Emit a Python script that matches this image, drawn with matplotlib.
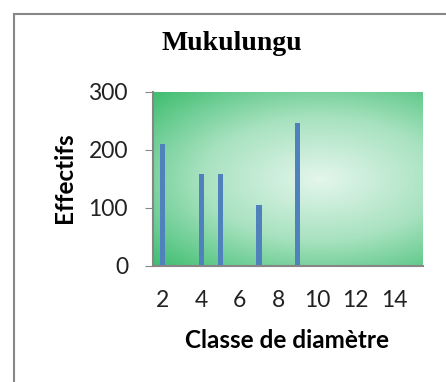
import numpy as np
import matplotlib.pyplot as plt
from matplotlib.colors import LinearSegmentedColormap
from matplotlib.patches import Rectangle

classes = [2, 4, 5, 7, 9]
effectifs = [211, 158, 158, 105, 247]
xticks = [2, 4, 6, 8, 10, 12, 14]
yticks = [0, 100, 200, 300]

fig = plt.figure(figsize=(4.46, 3.82), dpi=100)
fig.patches.append(Rectangle((14/446, -0.1), 1.2, 1 - 14/382 + 0.1,
                             transform=fig.transFigure, fill=False,
                             edgecolor='#868686', linewidth=1.5))

ax = fig.add_axes([153/446, 1 - 266/382, 270/446, 174/382])

# radial green gradient background
cmap = LinearSegmentedColormap.from_list('g', ['#e4f6ec', '#a8e2c0', '#3ebd70'])
gx, gy = np.meshgrid(np.linspace(0, 1, 300), np.linspace(0, 1, 200))
r = np.sqrt(((gx - 0.62) / 0.62) ** 2 + ((gy - 0.5) / 0.5) ** 2) / np.sqrt(2)
ax.imshow(r, cmap=cmap, vmin=0, vmax=1.0, extent=[1.5, 15.5, 0, 300],
          aspect='auto', origin='lower', zorder=0)

ax.bar(classes, effectifs, width=0.27, color='#4f81bd', zorder=2)

ax.set_xlim(1.5, 15.5)
ax.set_ylim(0, 300)
ax.set_xticks(xticks)
ax.set_yticks(yticks)
ax.tick_params(axis='x', length=0, pad=17, labelsize=16.5)
ax.tick_params(axis='y', length=6, color='#868686', pad=12, labelsize=16.5)
for lab in ax.get_xticklabels() + ax.get_yticklabels():
    lab.set_fontfamily('Lato')
    lab.set_color('#222222')

for s in ['top', 'right']:
    ax.spines[s].set_visible(False)
for s in ['left', 'bottom']:
    ax.spines[s].set_color('#868686')
    ax.spines[s].set_linewidth(1.5)

fig.text(287/446, 1 - 340/382, 'Classe de diamètre', fontfamily='Lato',
         fontweight='bold', fontsize=17.5, ha='center', va='center')
fig.text(65/446, 1 - 178/382, 'Effectifs', fontfamily='Lato',
         fontweight='bold', fontsize=17.5, rotation=90, ha='center', va='center')
fig.text(232/446, 1 - 43/382, 'Mukulungu', fontfamily='Liberation Serif',
         fontweight='bold', fontsize=20, ha='center', va='center')

fig.savefig('out.png', dpi=100)
